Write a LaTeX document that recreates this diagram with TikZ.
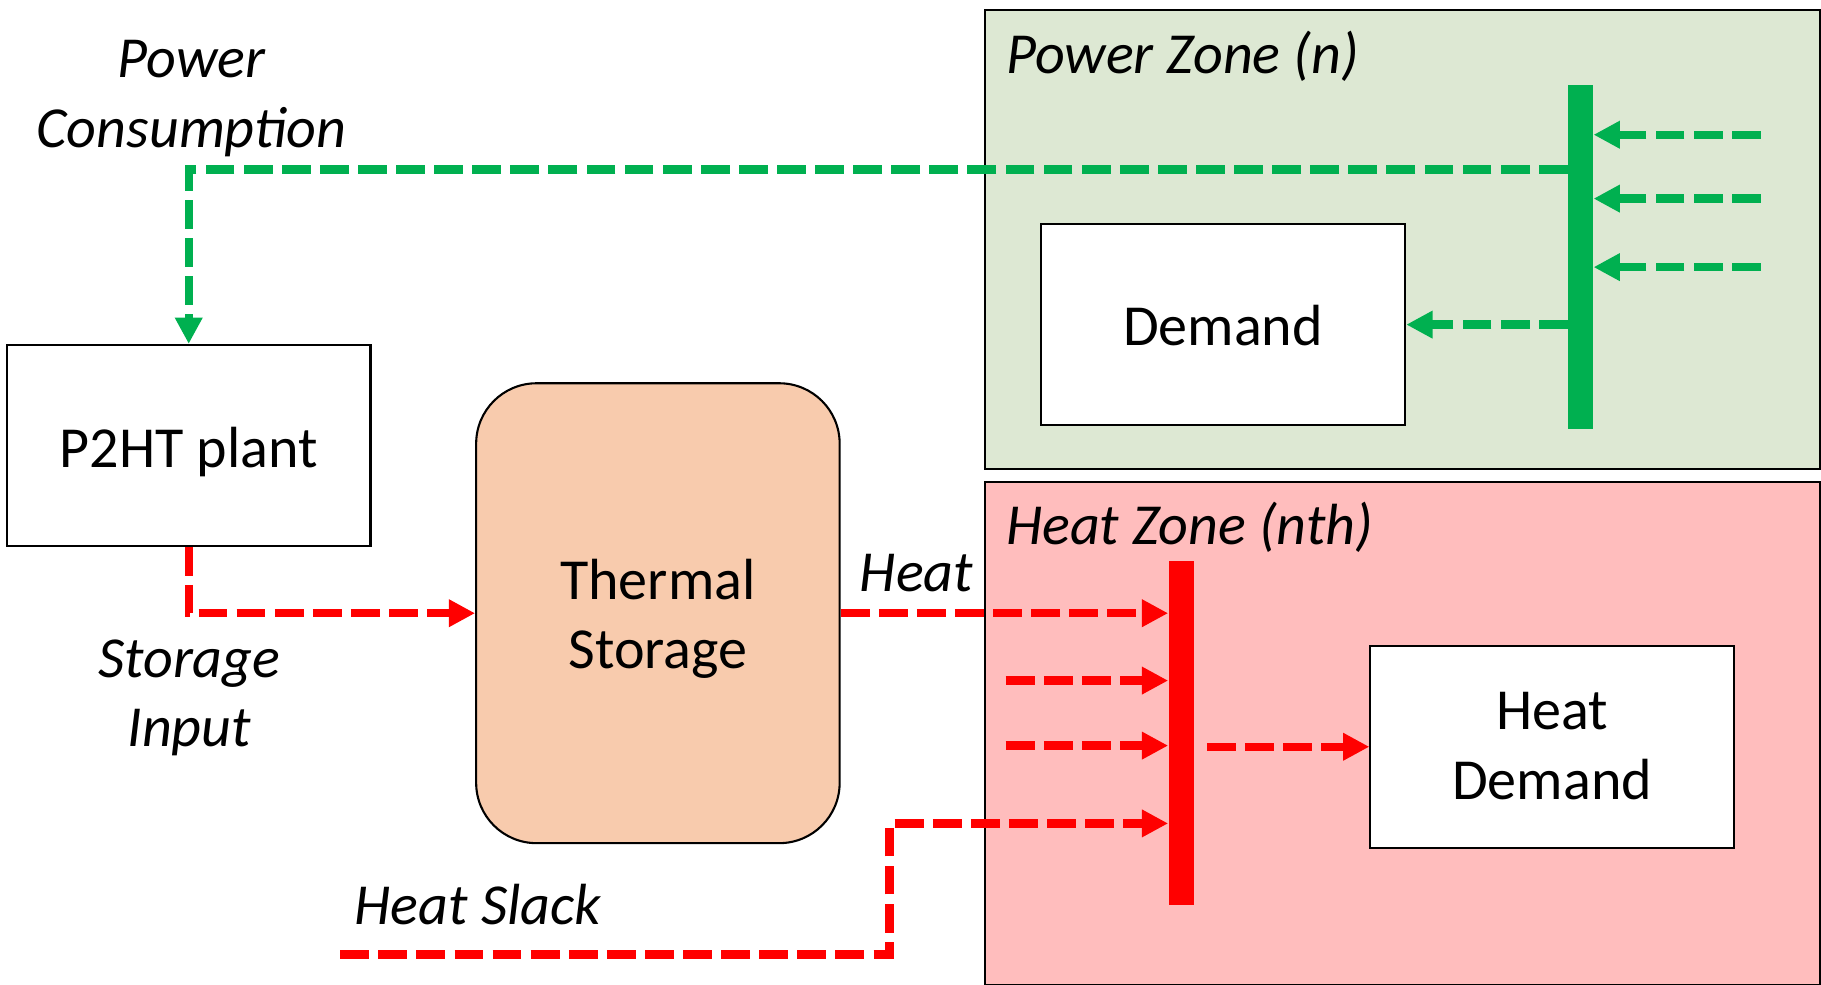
\documentclass[tikz,border=0pt]{standalone}
\usepackage{fontspec}
\setmainfont{Carlito}
\usetikzlibrary{arrows.meta,calc}
\definecolor{pgreen}{RGB}{0,176,80}
\definecolor{pred}{RGB}{255,0,0}
\definecolor{zgreen}{RGB}{221,232,211}
\definecolor{zred}{RGB}{255,189,189}
\definecolor{peach}{RGB}{248,203,173}
\newcommand{\shifttxt}[1]{\raisebox{#1}[\height][\depth]}
\tikzset{
  zone/.style={draw=black, line width=0.9pt, inner sep=0, anchor=north west},
  box/.style={draw=black, line width=0.9pt, fill=white, inner sep=0, align=center,
    minimum width=156.5pt, minimum height=86.5pt, font=\fontsize{25}{30}\selectfont},
  flow/.style={line width=3.6pt, dash pattern=on 12.4pt off 4pt},
  gflow/.style={flow, draw=pgreen},
  rflow/.style={flow, draw=pred},
  tip/.style={-{Triangle[length=11.3pt,width=11.2pt]}},
  bus/.style={inner sep=0, minimum width=10.75pt, minimum height=148pt},
  lbl/.style={font=\fontsize{25}{30}\selectfont\itshape, align=center, inner sep=0},
}
\begin{document}
\begin{tikzpicture}[x=0.5pt,y=-0.5pt]
\useasboundingbox (0,0) rectangle (1568,848);
% zones
\node[zone, fill=zgreen, minimum width=359.5pt, minimum height=197.5pt] (pz) at (847,8) {};
\node[zone, fill=zred, minimum width=359.5pt, minimum height=216.5pt] (hz) at (847,414) {};
% boxes
\node[box] (p2ht) at (162.5,383.5) {\shifttxt{-3pt}{P2HT plant}};
\node[box, fill=peach, minimum height=198pt, rounded corners=26pt] (ts) at (566.5,528)
  {\shifttxt{-3pt}{\begin{tabular}{@{}c@{}}Thermal\\Storage\end{tabular}}};
\node[box, minimum width=157pt] (dem) at (1053,279.5) {\shifttxt{-0.5pt}{Demand}};
\node[box, minimum height=87pt] (hd) at (1336.5,643)
  {\shifttxt{-1.5pt}{\begin{tabular}{@{}c@{}}Heat\\Demand\end{tabular}}};
% buses
\node[bus, fill=pgreen] (gbus) at (1361,221.5) {};
\node[bus, fill=pred] (rbus) at (1017,631) {};
% free ends
\coordinate (gin1) at (1516,116);
\coordinate (gin2) at (1516,171);
\coordinate (gin3) at (1516,230);
\coordinate (pcy) at (1000,146);
\coordinate (rin2) at (866,586);
\coordinate (rin3) at (866,642);
\coordinate (hs) at (293,822);
\coordinate (hsbend) at (766,709);
% green flows
\draw[gflow, tip] (gbus.west |- pcy) -| (p2ht.north);
\draw[gflow, tip] (gin1) -- (gbus.east |- gin1);
\draw[gflow, tip] (gin2) -- (gbus.east |- gin2);
\draw[gflow, tip] (gin3) -- (gbus.east |- gin3);
\draw[gflow, tip] (gbus.west |- dem.east) -- (dem.east);
% red flows
\draw[rflow, tip] (p2ht.south) |- (ts.west);
\draw[rflow, tip] (ts.east) -- (rbus.west |- ts.east);
\draw[rflow, tip] (rin2) -- (rbus.west |- rin2);
\draw[rflow, tip] (rin3) -- (rbus.west |- rin3);
\draw[rflow, tip] ($(rbus.east |- hd.west)+(11,0)$) -- (hd.west);
\draw[rflow, tip] (hs) -| (hsbend) -- (rbus.west |- hsbend);
% labels
\node[lbl] (lpc) at (165,85) {Power\\Consumption};
\node[lbl, anchor=base west] (lpz) at (866,63) {Power Zone (n)};
\node[lbl, anchor=base west] (lhz) at (866,469) {Heat Zone (nth)};
\node[lbl, anchor=base west] (lheat) at (740,509) {Heat};
\node[lbl] (lsi) at (163,601) {Storage\\Input};
\node[lbl, anchor=base west] (lhs) at (305,796) {Heat Slack};
\end{tikzpicture}
\end{document}
